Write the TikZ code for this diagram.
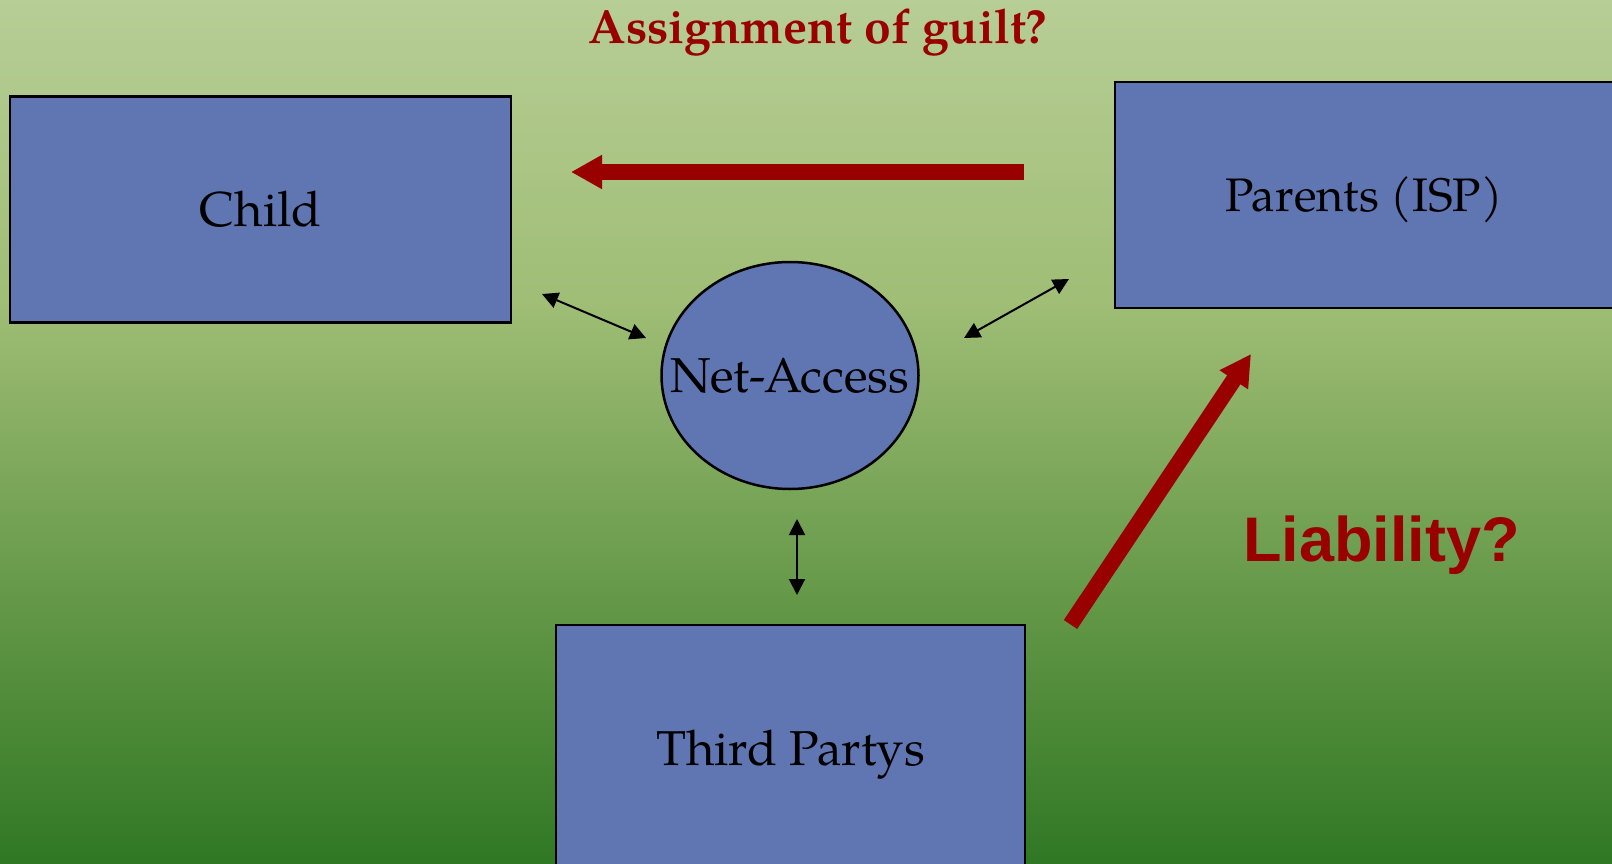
\documentclass[tikz,border=0pt]{standalone}
\usepackage{fontspec}
\setmainfont{texgyrepagella}[Extension=.otf,UprightFont=*-regular,BoldFont=*-bold]
\newfontfamily\arialfont{Liberation Sans}
\usetikzlibrary{arrows.meta,shapes.geometric}
\definecolor{boxblue}{RGB}{96,118,178}
\definecolor{guiltred}{RGB}{153,0,0}
\tikzset{
  boxnode/.style={draw=black, line width=2.5pt, fill=boxblue, rectangle, inner sep=0pt, text height=34pt, text depth=0pt, font=\fontsize{49}{54}\selectfont},
  ellnode/.style={draw=black, line width=2.5pt, fill=boxblue, ellipse, inner sep=0pt, font=\fontsize{49}{54}\selectfont},
  smallarrow/.style={line width=2pt, {Triangle[length=16pt,width=16pt]}-{Triangle[length=16pt,width=16pt]}},
  bigarrow/.style={guiltred, line width=16pt, -{Triangle[length=31pt,width=32pt]}},
}
\begin{document}
\begin{tikzpicture}[x=1pt,y=-1pt]
\useasboundingbox (0,0) rectangle (1612,864);
% background gradient in horizontal strips
\foreach \i in {0,...,215}{
  \pgfmathsetmacro{\yy}{\i*4}
  \ifdim\yy pt<300pt
    \pgfmathsetmacro{\t}{\yy/300}
    \pgfmathtruncatemacro{\rr}{183+(160-183)*\t}
    \pgfmathtruncatemacro{\gg}{206+(190-206)*\t}
    \pgfmathtruncatemacro{\bb}{150+(118-150)*\t}
  \else
    \ifdim\yy pt<600pt
      \pgfmathsetmacro{\t}{(\yy-300)/300}
      \pgfmathtruncatemacro{\rr}{160+(100-160)*\t}
      \pgfmathtruncatemacro{\gg}{190+(152-190)*\t}
      \pgfmathtruncatemacro{\bb}{118+(72-118)*\t}
    \else
      \pgfmathsetmacro{\t}{(\yy-600)/264}
      \pgfmathtruncatemacro{\rr}{100+(48-100)*\t}
      \pgfmathtruncatemacro{\gg}{152+(120-152)*\t}
      \pgfmathtruncatemacro{\bb}{72+(36-72)*\t}
    \fi
  \fi
  \definecolor{stripcol}{RGB}{\rr,\gg,\bb}
  \fill[stripcol] (0,\yy) rectangle (1612,\yy+4.6);
}
\node[boxnode, minimum width=501pt, minimum height=226pt] (child) at (260.5,209.5) {Child};
\node[boxnode, minimum width=498pt, minimum height=226pt, font=\fontsize{47}{52}\selectfont, text height=33pt] (parents) at (1364,195) {Parents (ISP)};
\node[boxnode, minimum width=469pt, minimum height=246pt] (third) at (790.5,748) {Third Partys};
\node[ellnode, minimum width=257pt, minimum height=227pt] (net) at (790,375.5) {\makebox[0pt]{Net-Access}};
\node[text=guiltred, font=\fontsize{48}{52}\selectfont\bfseries, anchor=base] (guilt) at (818,44) {Assignment of guilt?};
\node[text=guiltred, font=\arialfont\fontsize{63}{70}\selectfont\bfseries, anchor=base west, inner sep=0pt] (liab) at (1243,561) {Liability?};
\coordinate (cn1) at (542,294);
\coordinate (cn2) at (646,338);
\coordinate (pn1) at (1069,279);
\coordinate (pn2) at (964,338);
\coordinate (tn1) at (797,519);
\coordinate (tn2) at (797,595);
\draw[smallarrow] (cn1) -- (cn2);
\draw[smallarrow] (pn2) -- (pn1);
\draw[smallarrow] (tn1) -- (tn2);
\coordinate (ga1) at (1024,172);
\coordinate (ga2) at (571,172);
\coordinate (la1) at (1070.5,624.5);
\coordinate (la2) at (1251,354);
\draw[bigarrow] (ga1) -- (ga2);
\draw[bigarrow] (la1) -- (la2);
\end{tikzpicture}
\end{document}
